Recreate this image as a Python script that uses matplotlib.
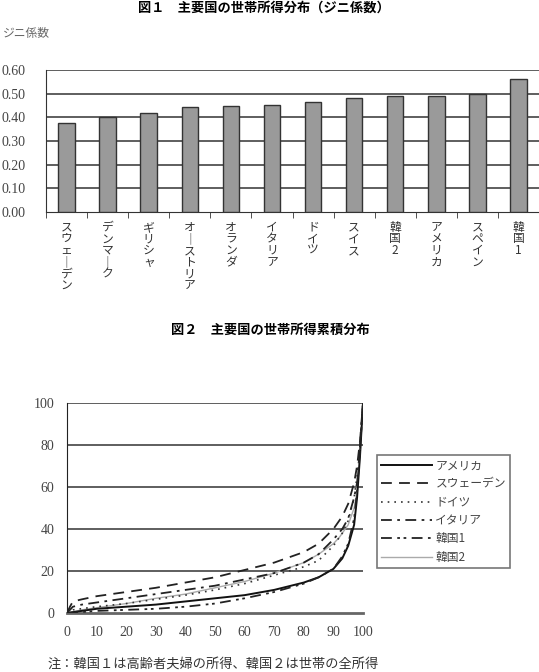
import matplotlib
matplotlib.use("Agg")
import matplotlib.pyplot as plt
import numpy as np

plt.rcParams['font.family'] = ['Noto Sans CJK JP', 'DejaVu Sans']

# figure 1: gini coefficients
countries = ["スウェーデン", "デンマーク", "ギリシャ", "オーストリア", "オランダ", "イタリア",
             "ドイツ", "スイス", "韓国2", "アメリカ", "スペイン", "韓国1"]
gini = [0.374, 0.400, 0.417, 0.442, 0.446, 0.450, 0.465, 0.480, 0.489, 0.489, 0.499, 0.561]
gini_ticks = [0.0, 0.1, 0.2, 0.3, 0.4, 0.5, 0.6]

# figure 2: cumulative distribution (percentile -> % of top income)
pct_us = [0, 10, 20, 30, 40, 50, 60, 70, 80, 85, 90, 93, 95, 97, 98, 99, 100]
us = [0, 2, 3, 4, 5.5, 7, 8.5, 11, 14.5, 17, 21, 26, 32, 42, 55, 75, 100]
pct_se = [0, 1, 2, 5, 10, 20, 30, 40, 50, 60, 70, 80, 85, 90, 93, 95, 97, 98, 99, 100]
se = [0, 3, 5.5, 6.5, 8, 10, 12, 14.5, 17, 20.5, 24, 29, 33, 40, 46, 52, 62, 70, 82, 100]
pct_de = [0, 2, 10, 20, 30, 40, 50, 60, 70, 80, 85, 90, 93, 95, 97, 98, 99, 100]
de = [0, 1.5, 3, 4.5, 6.5, 8.5, 11, 14, 18, 22, 25, 32, 38, 44, 55, 65, 78, 100]
pct_it = [0, 2, 5, 10, 20, 30, 40, 50, 60, 70, 80, 85, 90, 93, 95, 97, 98, 99, 100]
it = [0, 3, 4, 5, 7, 9, 11, 13, 16, 19, 24, 28, 35, 40, 45, 55, 62, 78, 100]
pct_k1 = [0, 5, 10, 20, 30, 40, 50, 60, 70, 80, 85, 90, 93, 95, 97, 98, 99, 100]
k1 = [0, 0.5, 1, 1.5, 2, 3, 4.5, 7, 10, 14, 17, 21, 27, 33, 45, 58, 80, 100]
pct_k2 = [0, 5, 10, 20, 30, 40, 50, 60, 70, 80, 85, 88, 90, 92, 93, 95, 97, 98, 99, 100]
k2 = [0, 1.5, 2.5, 4.5, 7, 9, 12, 15, 19, 24, 28, 31, 33, 36, 38, 42, 50, 58, 75, 100]

fig = plt.figure(figsize=(5.39, 6.72), dpi=100)

serif = ['Liberation Serif', 'DejaVu Serif']
grid_c = '#333333'

fig.text(0.49, 1 - 1/672, "図１　主要国の世帯所得分布（ジニ係数）", ha='center', va='top',
         fontsize=9.5, fontweight='bold')
fig.text(3/539, 1 - 33/672, "ジニ係数", ha='left', va='center', fontsize=8.5, color='#666666')

ax1 = fig.add_axes([46/539, 1 - 212/672, 493/539, 142/672])
x = np.arange(len(countries))
ax1.bar(x, gini, width=0.4, color='#9a9a9a', edgecolor='#333333', linewidth=1.0, zorder=3)
ax1.set_xlim(-0.5, len(countries) - 0.5)
ax1.set_ylim(0, 0.6)
ax1.set_yticks(gini_ticks)
ax1.set_yticklabels(["%.2f" % v for v in gini_ticks])
for t in ax1.get_yticklabels():
    t.set_fontfamily(serif)
    t.set_fontsize(10)
    t.set_color('#444444')
for v in gini_ticks[1:]:
    ax1.axhline(v, color=grid_c, lw=1.1, zorder=1)
ax1.tick_params(axis='y', length=0, pad=15)
ax1.set_xticks(x)
ax1.set_xticklabels([])
ax1.tick_params(axis='x', which='major', length=0)
ax1.set_xticks(np.arange(-0.5, len(countries), 1.0), minor=True)
ax1.tick_params(axis='x', which='minor', length=4, direction='out', color='#333333')
for s in ['top', 'right']:
    ax1.spines[s].set_visible(False)
ax1.spines['left'].set_color('#333333')
ax1.spines['bottom'].set_color('#333333')
for i, name in enumerate(countries):
    vert = "\n".join(name.replace("ー", "｜"))
    ax1.text(i, -0.037, vert, ha='center', va='top', fontsize=8.5, color='#333333',
             linespacing=0.86, transform=ax1.transData)

fig.text(270/539, 1 - 330/672, "図２　主要国の世帯所得累積分布", ha='center', va='center',
         fontsize=9.5, fontweight='bold')

ax2 = fig.add_axes([67/539, 1 - 613/672, 296/539, 210/672])
ax2.plot(pct_us, us, color='#111111', lw=1.4, label='アメリカ', zorder=5)
ax2.plot(pct_se, se, color='#222222', lw=1.3, ls=(0, (6, 4)), label='スウェーデン', zorder=5)
ax2.plot(pct_de, de, color='#333333', lw=1.2, ls=(0, (1, 3)), label='ドイツ', zorder=5)
ax2.plot(pct_it, it, color='#222222', lw=1.3, ls=(0, (6, 3, 1.5, 3)), label='イタリア', zorder=5)
ax2.plot(pct_k1, k1, color='#222222', lw=1.3, ls=(0, (6, 3, 1.5, 2, 1.5, 3)), label='韓国1', zorder=5)
ax2.plot(pct_k2, k2, color='#aaaaaa', lw=1.0, label='韓国2', zorder=4)
ax2.set_xlim(0, 100)
ax2.set_ylim(0, 100)
ax2.set_xticks(np.arange(0, 101, 10))
ax2.set_yticks(np.arange(0, 101, 20))
ax2.set_xticklabels([str(v) for v in range(0, 101, 10)])
ax2.set_yticklabels([str(v) for v in range(0, 101, 20)])
for t in ax2.get_xticklabels() + ax2.get_yticklabels():
    t.set_fontfamily(serif)
    t.set_fontsize(10)
    t.set_color('#444444')
ax2.tick_params(length=0, pad=9)
for v in range(20, 101, 20):
    ax2.axhline(v, color=grid_c, lw=1.1, zorder=1)
for s in ['top', 'right']:
    ax2.spines[s].set_visible(False)
ax2.spines['left'].set_color('#222222')
ax2.spines['bottom'].set_color('#666666')
ax2.spines['bottom'].set_linewidth(2)
leg = ax2.legend(loc='upper left', bbox_to_anchor=(377/539, 1 - 455/672), bbox_transform=fig.transFigure,
                 frameon=True, fancybox=False, edgecolor='#555555', fontsize=8.5, handlelength=4.3,
                 handletextpad=0.3, borderpad=0.35, labelspacing=0.45, borderaxespad=0)
leg.get_frame().set_linewidth(1.2)
for t in leg.get_texts():
    t.set_color('#444444')

fig.text(48/539, 1 - 671/672, "注：韓国１は高齢者夫婦の所得、韓国２は世帯の全所得", ha='left', va='bottom',
         fontsize=9.5, color='#333333')

fig.savefig("out.png", dpi=100)
